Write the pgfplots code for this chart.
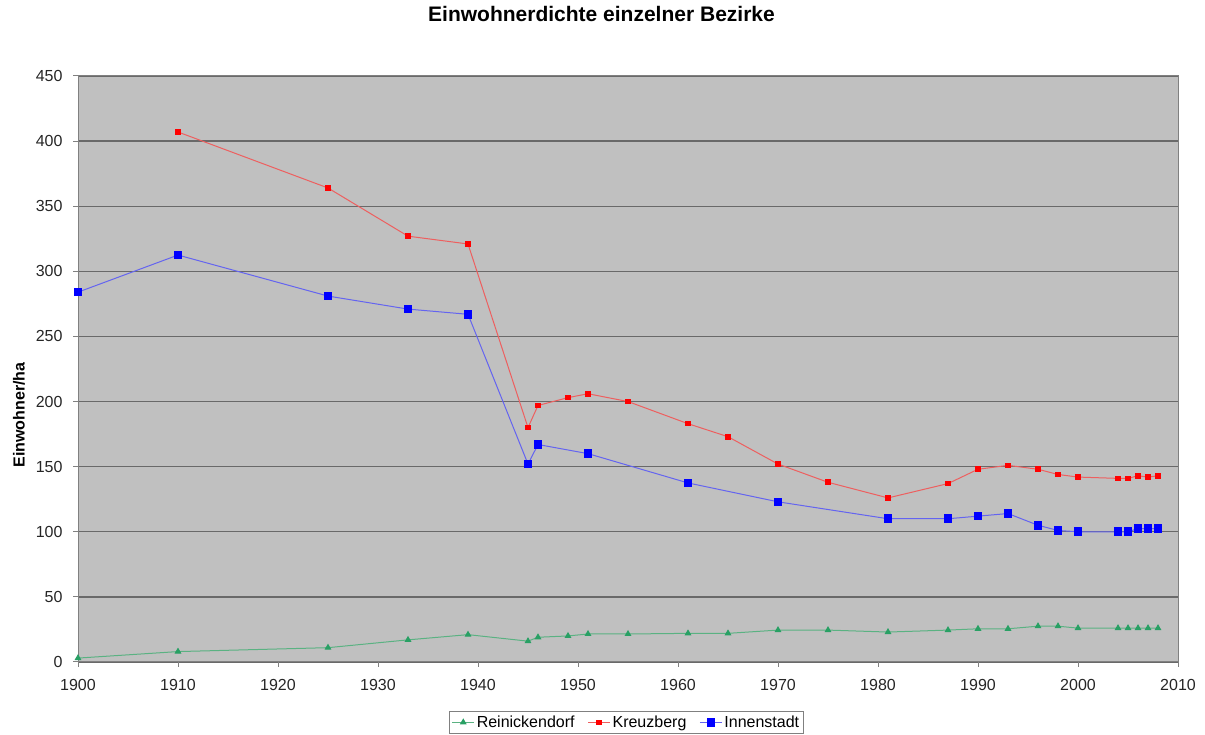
\documentclass[border=0pt]{standalone}
\usepackage{fontspec}
\setmainfont{Liberation Sans}
\usepackage{pgfplots}
\pgfplotsset{compat=1.18}
\definecolor{bg}{RGB}{192,192,192}
\definecolor{gridc}{RGB}{105,105,105}
\definecolor{axisc}{RGB}{128,128,128}
\definecolor{redl}{RGB}{238,95,95}
\definecolor{redm}{RGB}{255,0,0}
\definecolor{bluel}{RGB}{100,100,240}
\definecolor{bluem}{RGB}{0,0,255}
\definecolor{greenl}{RGB}{90,178,130}
\definecolor{greenm}{RGB}{40,160,100}
\begin{document}
\begin{tikzpicture}[x=1pt,y=1pt]
\useasboundingbox (0,0) rectangle (1205,735);
\begin{axis}[
  at={(78pt,73pt)}, anchor=south west,
  scale only axis, width=1100pt, height=586pt,
  xmin=1900, xmax=2010, ymin=0, ymax=450,
  xtick={1900,1910,...,2010}, ytick={0,50,...,450},
  xtick pos=left, ytick pos=left,
  tick align=outside, major tick length=5pt,
  /pgf/number format/1000 sep={},
  /pgf/number format/assume math mode=true,
  tick label style={font=\fontsize{16}{19}\selectfont, text=black!85},
  xticklabel style={yshift=-9pt},
  yticklabel style={xshift=-7pt},
  axis background/.style={fill=bg},
  ymajorgrids, grid style={gridc, line width=1.4pt},
  axis line style={axisc, line width=1pt},
  tick style={axisc, line width=1pt},
  title={Einwohnerdichte einzelner Bezirke},
  title style={at={(0.4759,1.096)}, anchor=center, font=\fontsize{21}{24}\selectfont\bfseries},
  ylabel={Einwohner/ha},
  ylabel style={at={(axis description cs:-0.0536,0.4215)}, anchor=center, rotate=0, font=\fontsize{16}{19}\selectfont\bfseries},
  legend style={at={(0.4986,-0.103)}, anchor=center, legend columns=3, draw=axisc, fill=white,
    font=\fontsize{16}{19}\selectfont, inner sep=2.5pt,
    /tikz/every even column/.append style={column sep=11pt}},
  legend image code/.code={\draw[mark repeat=2,mark phase=2] plot coordinates {(0pt,0pt) (11pt,0pt) (22pt,0pt)};},
  legend cell align=left,
]
\addplot[color=greenl, line width=1pt, mark=triangle*, mark size=3pt, mark options={fill=greenm, draw=greenm}] coordinates {
(1900,3) (1910,8) (1925,11) (1933,17) (1939,21) (1945,16) (1946,19) (1949,20) (1951,21.5) (1955,21.5)
(1961,22) (1965,22) (1970,24.5) (1975,24.5) (1981,23) (1987,24.5) (1990,25.5) (1993,25.5) (1996,27.5)
(1998,27.5) (2000,26) (2004,26) (2005,26) (2006,26) (2007,26) (2008,26)
};
\addlegendentry{Reinickendorf}
\addplot[color=redl, line width=1pt, mark=square*, mark size=2.3pt, mark options={fill=redm, draw=redm}] coordinates {
(1910,407) (1925,364) (1933,327) (1939,321) (1945,180) (1946,197) (1949,203) (1951,206) (1955,200)
(1961,183) (1965,173) (1970,152) (1975,138) (1981,126) (1987,137) (1990,148) (1993,151) (1996,148)
(1998,144) (2000,142) (2004,141) (2005,141) (2006,143) (2007,142) (2008,143)
};
\addlegendentry{Kreuzberg}
\addplot[color=bluel, line width=1pt, mark=square*, mark size=3.8pt, mark options={fill=bluem, draw=bluem}] coordinates {
(1900,284) (1910,312.5) (1925,281) (1933,271) (1939,267) (1945,152) (1946,167) (1951,160) (1961,137.5)
(1970,123) (1981,110) (1987,110) (1990,112) (1993,114) (1996,105) (1998,101) (2000,100) (2004,100)
(2005,100) (2006,102.5) (2007,102.5) (2008,102.5)
};
\addlegendentry{Innenstadt}
\end{axis}
\end{tikzpicture}
\end{document}
